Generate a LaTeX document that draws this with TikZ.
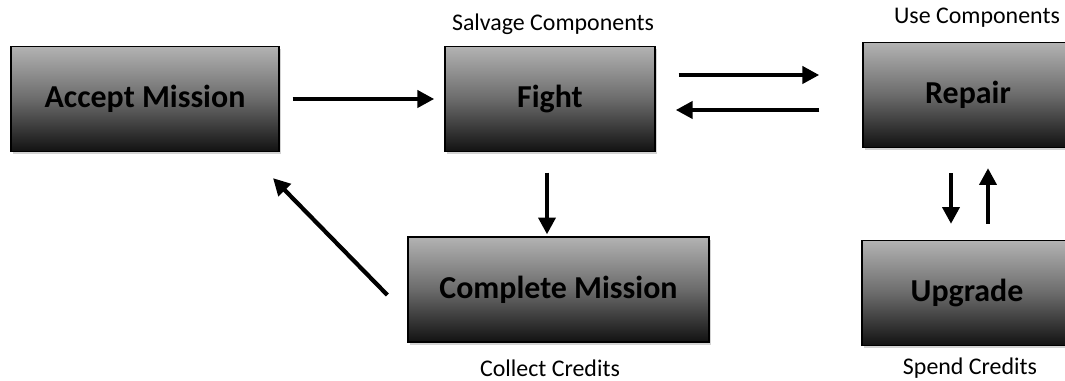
\documentclass[tikz,border=0pt]{standalone}
\usepackage{fontspec}
\setmainfont{Carlito}
\usepackage{tikz}
\usetikzlibrary{arrows.meta,calc,shadows}
\usepackage{xcolor}

\begin{document}
\begin{tikzpicture}[x=0.025cm, y=0.025cm,
  stage/.style={draw=black, line width=1pt, top color=black!30, bottom color=black!93, middle color=black!58,
    minimum width=5.25cm, minimum height=2.62cm, inner sep=0pt,
    font=\fontsize{22.7}{26}\selectfont\bfseries,
    drop shadow={opacity=0.35, shadow xshift=1.5pt, shadow yshift=-2pt}},
  note/.style={font=\fontsize{17}{20}\selectfont},
  flow/.style={-{Triangle[length=12pt,width=12pt]}, line width=3pt}]
\clip (0,0) rectangle (1065,381);
% Game loop
\node[stage, minimum width=6.7cm] (accept) at (145,282) {Accept Mission};
\node[stage] (fight) at (550,282) {Fight};
\node[stage] (repair) at (968,286) {Repair};
\node[stage] (upgrade) at (967,88) {Upgrade};
\node[stage, minimum width=7.52cm] (complete) at (558.5,91.5) {Complete Mission};
% labels
\node[note] (salvage) at (553,357) {Salvage Components};
\node[note] (use) at (977,363) {Use Components};
\node[note] (collect) at (550,12.5) {Collect Credits};
\node[note] (spend) at (970,13) {Spend Credits};
% arrows
\draw[flow] ($(accept.east)+(13,0)$) -- ($(fight.west)+(-10,0)$);
\draw[flow] ($(fight.east)+(23,24)$) -- ($(repair.west)+(-43,20)$);
\draw[flow] ($(repair.west)+(-43,-15)$) -- ($(fight.east)+(20,-11)$);
\draw[flow] ($(fight.south)+(-3,-20.5)$) -- ($(complete.north)+(-11.5,2)$);
\draw[flow] ($(complete.west)+(-20,-5.5)$) -- ($(accept.south)+(128,-26)$);
\draw[flow] ($(repair.south)+(-17,-25)$) -- ($(upgrade.north)+(-16,16)$);
\draw[flow] ($(upgrade.north)+(21,16)$) -- ($(repair.south)+(20,-20)$);
\end{tikzpicture}
\end{document}
